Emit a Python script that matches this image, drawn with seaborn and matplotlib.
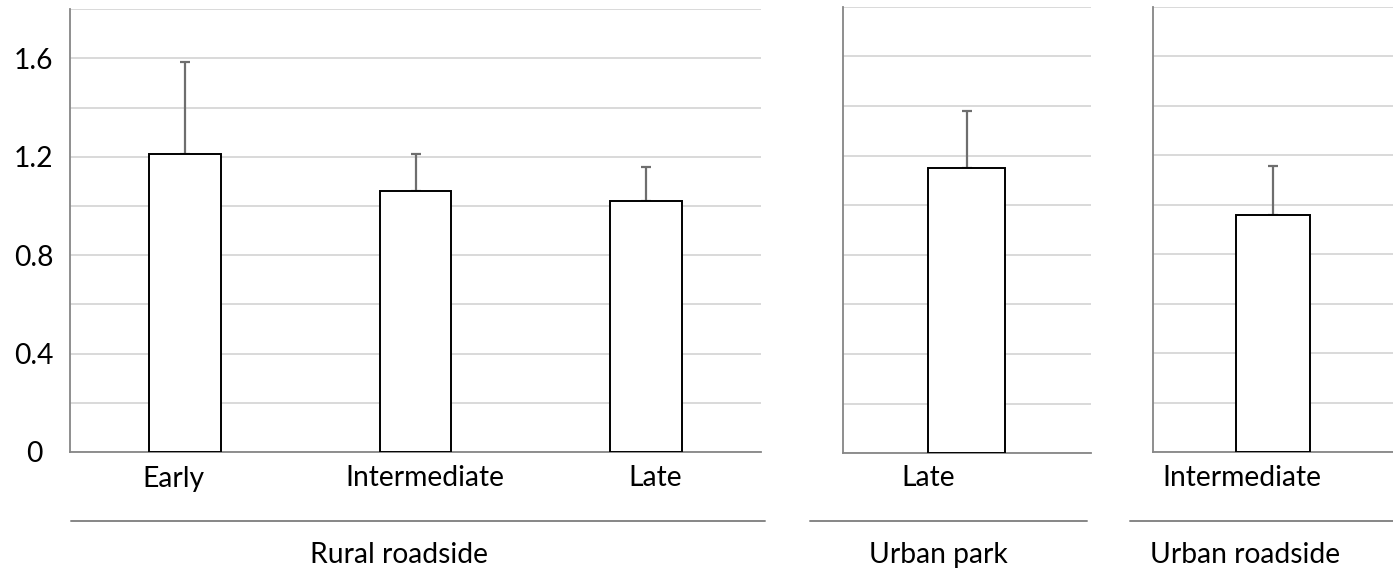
import matplotlib
matplotlib.use("Agg")
import matplotlib.pyplot as plt
import matplotlib.transforms as mtransforms
from matplotlib.lines import Line2D
import numpy as np
import seaborn as sns

# Mean values and upper error per site / stage
rural_stages = ["Early", "Intermediate", "Late"]
rural_means = [1.21, 1.06, 1.02]
rural_errs = [0.375, 0.15, 0.14]

park_stages = ["Late"]
park_means = [1.15]
park_errs = [0.23]

urban_stages = ["Intermediate"]
urban_means = [0.96]
urban_errs = [0.195]

group_names = ["Rural roadside", "Urban park", "Urban roadside"]

y_ticks = [0, 0.2, 0.4, 0.6, 0.8, 1.0, 1.2, 1.4, 1.6, 1.8]
y_tick_labels = ["0", "", "0.4", "", "0.8", "", "1.2", "", "1.6", ""]

sns.set_theme(style="white")
plt.rcParams["font.family"] = ["Lato", "DejaVu Sans"]

W, H = 1393, 572
fig = plt.figure(figsize=(W / 100, H / 100), dpi=100)


def px_axes(x0, x1, top, bottom):
    return fig.add_axes([x0 / W, (H - bottom) / H, (x1 - x0) / W, (bottom - top) / H])


GRID = "#d9d9d9"
SPINE = "#868686"
ERR = "#6e6e6e"
FS = 20.3


def draw_panel(ax, stages, means, errs, label_shift, show_labels):
    sns.barplot(x=stages, y=means, ax=ax, color="white", saturation=1,
                edgecolor="black", linewidth=1.4, width=0.31, errorbar=None,
                zorder=3)
    xs = np.arange(len(stages))
    ax.errorbar(xs, means, yerr=[np.zeros(len(errs)), errs], fmt="none",
                ecolor=ERR, elinewidth=1.6, capsize=3.4, capthick=1.6, zorder=2)
    ax.set_xlim(-0.5, len(stages) - 0.5)
    ax.set_ylim(0, 1.8)
    ax.set_yticks(y_ticks)
    if show_labels:
        ax.set_yticklabels(y_tick_labels, fontsize=FS, ha="center", color="black")
        ax.tick_params(axis="y", length=0, pad=26)
    else:
        ax.set_yticklabels([])
        ax.tick_params(axis="y", length=0)
    ax.set_xticks([])
    ax.set_xlabel("")
    ax.set_ylabel("")
    ax.yaxis.grid(True, color=GRID, linewidth=1.4, zorder=0)
    ax.set_axisbelow(True)
    for side in ("top", "right"):
        ax.spines[side].set_visible(False)
    for side in ("left", "bottom"):
        ax.spines[side].set_color(SPINE)
        ax.spines[side].set_linewidth(1.3)
    trans = mtransforms.blended_transform_factory(ax.transData, fig.transFigure)
    for i, (name, dx) in enumerate(zip(stages, label_shift)):
        ax.text(i + dx, (H - 486.5) / H, name, transform=trans, ha="center",
                va="baseline", fontsize=FS, color="black", clip_on=False)


ax1 = px_axes(70, 761, 9.3, 452)
ax2 = px_axes(842.7, 1090.7, 6.7, 453.3)
ax3 = px_axes(1152.7, 1393, 6.7, 452)

draw_panel(ax1, rural_stages, rural_means, rural_errs, [-0.052, 0.04, 0.04], True)
draw_panel(ax2, park_stages, park_means, park_errs, [-0.154], False)
draw_panel(ax3, urban_stages, urban_means, urban_errs, [-0.13], False)

# Group separators and group names below the category labels
group_spans = [(71, 765), (810, 1087), (1130, 1393)]
group_centers = [399.5, 938, 1245]
for (a, b), cx, name in zip(group_spans, group_centers, group_names):
    fig.add_artist(Line2D([a / W, b / W], [(H - 521) / H] * 2,
                          transform=fig.transFigure, color=SPINE, linewidth=1.4))
    fig.text(cx / W, (H - 563) / H, name, ha="center", va="baseline",
             fontsize=FS, color="black")

fig.savefig("out.png", dpi=100, facecolor="white")
